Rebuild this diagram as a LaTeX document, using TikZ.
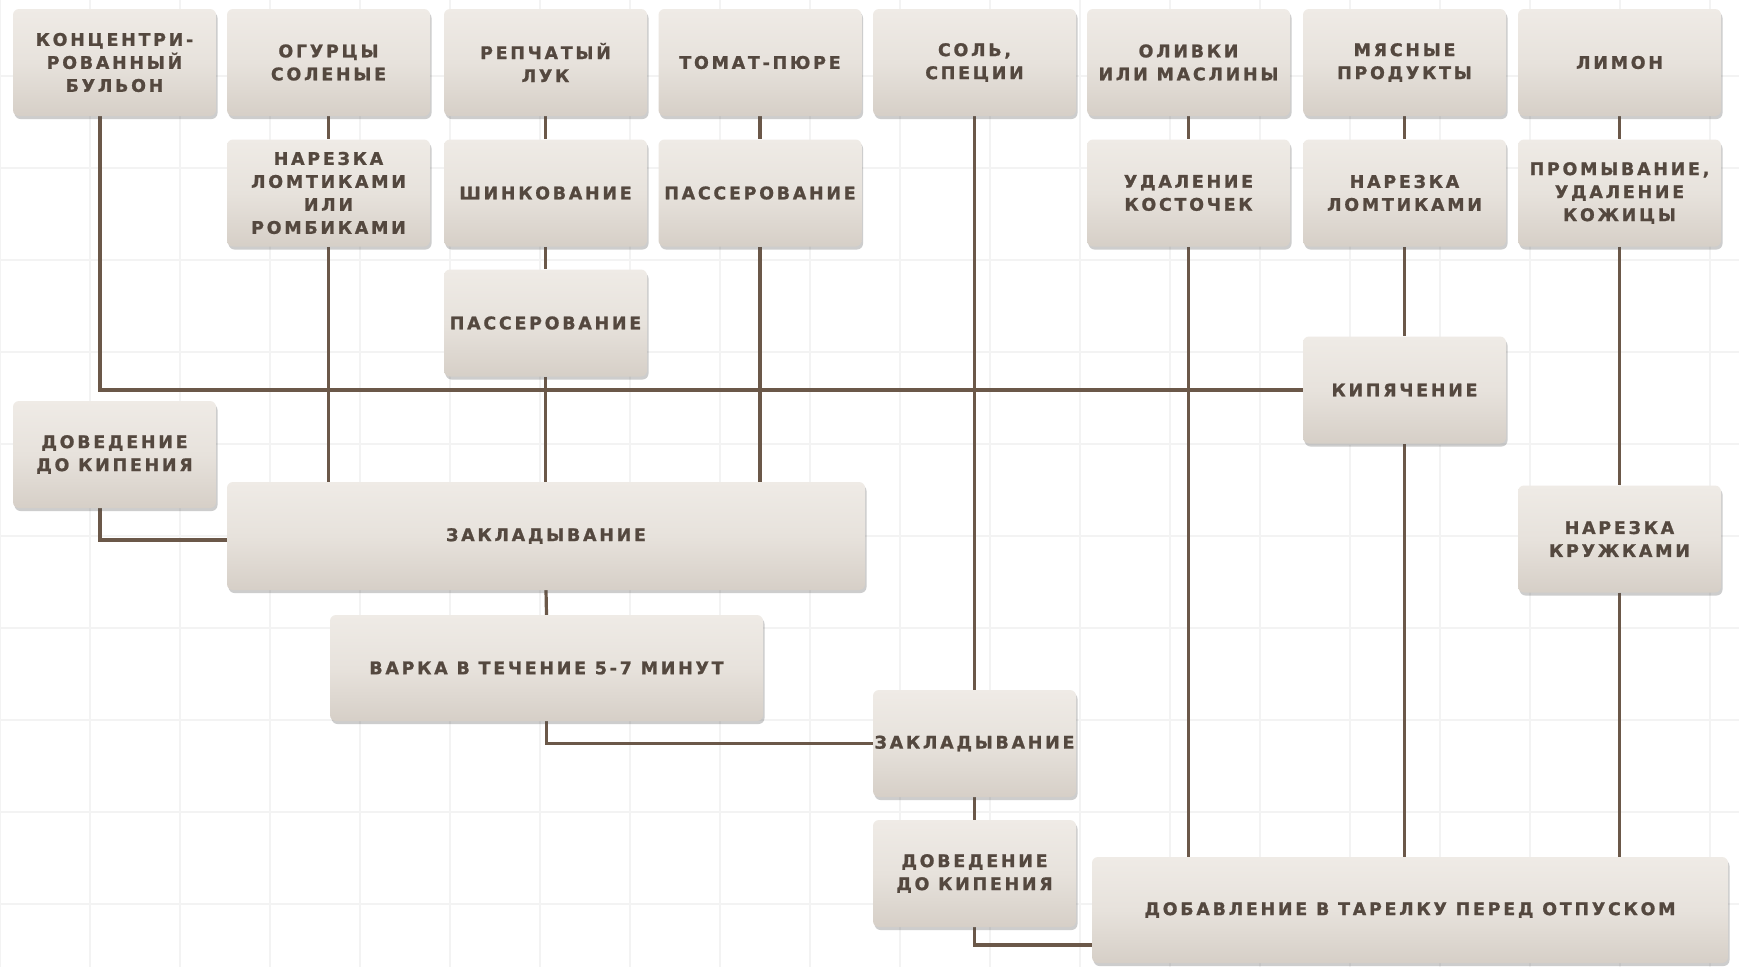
\documentclass[tikz,border=0pt]{standalone}
\usepackage{fontspec}
\usetikzlibrary{shadows,calc}
\newfontfamily\boxfont[LetterSpace=16, BoldFeatures={FakeBold=1.2}]{DejaVu Sans}
\definecolor{txt}{HTML}{54483F}
\definecolor{wire}{HTML}{6B5849}
\definecolor{boxtop}{HTML}{EFEBE6}
\definecolor{boxmid}{HTML}{E7E2DC}
\definecolor{boxbot}{HTML}{D6CFC7}
\definecolor{gridc}{HTML}{F3F3F3}
\pgfdeclarelayer{bg}
\pgfdeclarelayer{grd}
\pgfsetlayers{grd,bg,main}
\tikzset{
  stepbox/.style={rectangle, rounded corners=6pt, top color=boxtop, bottom color=boxbot,
    middle color=boxmid,
    minimum width=203pt, minimum height=107pt, inner xsep=0pt, inner ysep=2pt, align=center,
    text=txt, font=\boxfont\bfseries\fontsize{17.4}{23}\selectfont,
    drop shadow={shadow xshift=1.5pt, shadow yshift=-3pt, opacity=0.28, fill=black!70}},
  wireline/.style={draw=wire, line width=3.2pt},
}
\begin{document}
\begin{tikzpicture}[x=1pt,y=-1pt]
\useasboundingbox (0,0) rectangle (1739,967);
\begin{pgfonlayer}{grd}
\fill[white] (0,0) rectangle (1739,967);
\foreach \gx in {0,90,...,1739} \draw[gridc, line width=1.5pt] (\gx,0) -- (\gx,967);
\foreach \gy in {76,168,...,967} \draw[gridc, line width=1.5pt] (0,\gy) -- (1739,\gy);
\end{pgfonlayer}
% top row
\node[stepbox] (b1) at (114.5,62.5) {КОНЦЕНТРИ-\\РОВАННЫЙ\\БУЛЬОН};
\node[stepbox] (b2) at (328.5,62.5) {ОГУРЦЫ\\СОЛЕНЫЕ};
\node[stepbox] (b3) at (545.5,62.5) {РЕПЧАТЫЙ\\ЛУК};
\node[stepbox] (b4) at (760,62.5) {ТОМАТ-ПЮРЕ};
\node[stepbox] (b5) at (974.5,62.5) {СОЛЬ,\\СПЕЦИИ};
\node[stepbox] (b6) at (1188.5,62.5) {ОЛИВКИ\\ИЛИ МАСЛИНЫ};
\node[stepbox] (b7) at (1404.5,62.5) {МЯСНЫЕ\\ПРОДУКТЫ};
\node[stepbox] (b8) at (1619.5,62.5) {ЛИМОН};
% row 2
\node[stepbox] (n2) at (328.5,193) {НАРЕЗКА\\ЛОМТИКАМИ\\ИЛИ\\РОМБИКАМИ};
\node[stepbox] (shink) at (545.5,193) {ШИНКОВАНИЕ};
\node[stepbox] (pass2) at (760,193) {ПАССЕРОВАНИЕ};
\node[stepbox] (udal) at (1188.5,193) {УДАЛЕНИЕ\\КОСТОЧЕК};
\node[stepbox] (nar7) at (1404.5,193) {НАРЕЗКА\\ЛОМТИКАМИ};
\node[stepbox] (prom) at (1619.5,193) {ПРОМЫВАНИЕ,\\УДАЛЕНИЕ\\КОЖИЦЫ};
% lower rows
\node[stepbox] (pass1) at (545.5,323) {ПАССЕРОВАНИЕ};
\node[stepbox] (kip) at (1404.5,390) {КИПЯЧЕНИЕ};
\node[stepbox] (dov1) at (114.5,454.5) {ДОВЕДЕНИЕ\\ДО КИПЕНИЯ};
\node[stepbox, minimum width=638pt, minimum height=108pt] (zak1) at (546,536) {ЗАКЛАДЫВАНИЕ};
\node[stepbox] (kruzh) at (1619.5,539) {НАРЕЗКА\\КРУЖКАМИ};
\node[stepbox, minimum width=433pt, minimum height=106pt] (varka) at (546.5,668) {ВАРКА В ТЕЧЕНИЕ 5-7 МИНУТ};
\node[stepbox] (zak2) at (974.5,743.5) {ЗАКЛАДЫВАНИЕ};
\node[stepbox] (dov2) at (974.5,873.5) {ДОВЕДЕНИЕ\\ДО КИПЕНИЯ};
\node[stepbox, minimum width=636pt, minimum height=106pt] (dobav) at (1410,910) {ДОБАВЛЕНИЕ В ТАРЕЛКУ ПЕРЕД ОТПУСКОМ};
\coordinate (c1x) at (100,0);
\coordinate (y945) at (0,945);
\coordinate (y540) at (0,540);
\begin{pgfonlayer}{bg}
\draw[wireline] (b1.south -| c1x) -- (c1x |- kip.west) -- (kip.west);
\draw[wireline] (b2.south) -- (n2.north);
\draw[wireline] (n2.south) -- (n2.south |- zak1.north);
\draw[wireline] (b3.south) -- (shink.north);
\draw[wireline] (shink.south) -- (pass1.north);
\draw[wireline] (pass1.south) -- (pass1.south |- zak1.north);
\draw[wireline] (b4.south) -- (pass2.north);
\draw[wireline] (pass2.south) -- (pass2.south |- zak1.north);
\draw[wireline] (b5.south) -- (zak2.north);
\draw[wireline] (b6.south) -- (udal.north);
\draw[wireline] (udal.south) -- (udal.south |- dobav.north);
\draw[wireline] (b7.south) -- (nar7.north);
\draw[wireline] (nar7.south) -- (kip.north);
\draw[wireline] (kip.south) -- (kip.south |- dobav.north);
\draw[wireline] (b8.south) -- (prom.north);
\draw[wireline] (prom.south) -- (kruzh.north);
\draw[wireline] (kruzh.south) -- (kruzh.south |- dobav.north);
\draw[wireline] (dov1.south -| c1x) -- (c1x |- y540) -- (zak1.west |- y540);
\draw[wireline] (zak1.south) -- (varka.north);
\draw[wireline] (varka.south) |- (zak2.west);
\draw[wireline] (zak2.south) -- (dov2.north);
\draw[wireline] (dov2.south) -- (dov2.south |- y945) -- (dobav.west |- y945);
\end{pgfonlayer}
\end{tikzpicture}
\end{document}
